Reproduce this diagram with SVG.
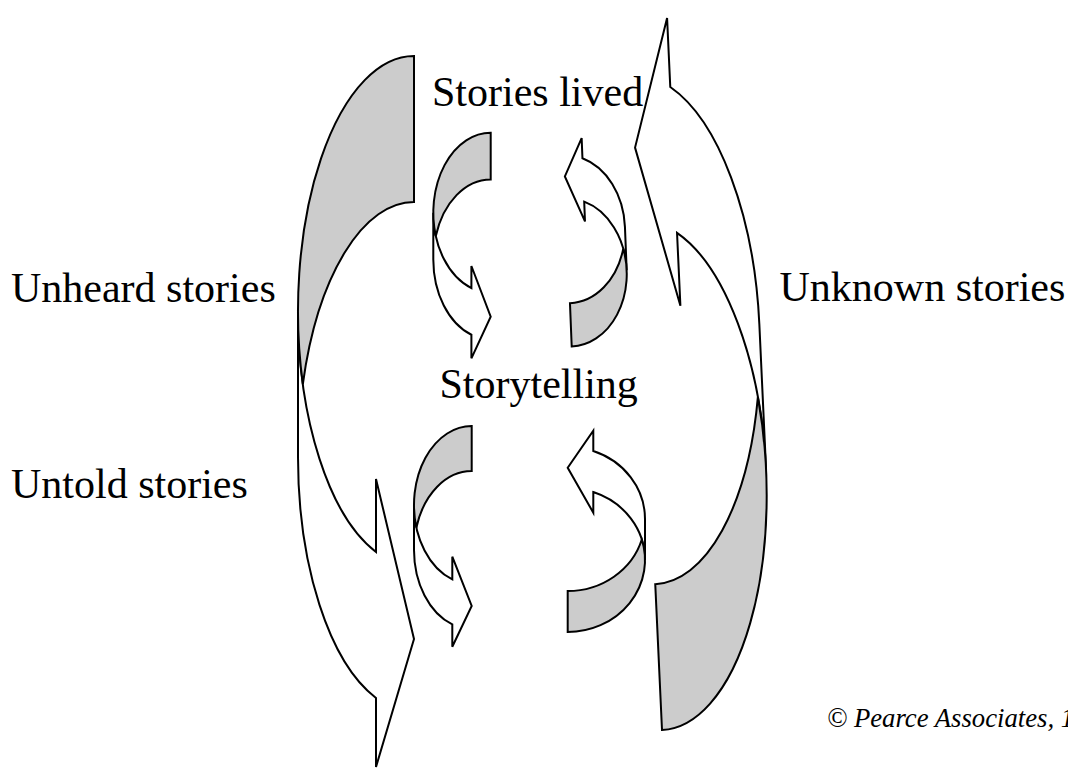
<svg xmlns="http://www.w3.org/2000/svg" xmlns:xlink="http://www.w3.org/1999/xlink" width="1068" height="768" viewBox="0 0 1068 768">
  <style>
    .body { fill: #ffffff; stroke: #000000; stroke-width: 2; stroke-linejoin: miter; }
    .back { fill: #cccccc; stroke: #000000; stroke-width: 2; stroke-linejoin: miter; }
    .label { font-family: "Liberation Serif", "Times New Roman", serif; font-size: 42px; fill: #000000; }
    .copy { font-family: "Liberation Serif", "Times New Roman", serif; font-size: 26.7px; font-style: italic; fill: #000000; }
  </style>
  <defs>
    <g id="bigArrowShape">
      <path class="body" d="M-116,255 A116,255 0 0 0 -38,495.93 L-38,423 L0,583 L-38,711 L-38,641.93 A116,255 0 0 1 -116,401 Z"/>
      <path class="back" d="M0,0 L0,146 A116,255 0 0 0 -111.15,328 A116,255 0 0 1 0,0 Z"/>
    </g>
  </defs>
  <rect x="0" y="0" width="1068" height="768" fill="#ffffff"/>
  <g id="connectors">
    <g id="arrow-unheard-untold">
      <use xlink:href="#bigArrowShape" href="#bigArrowShape" transform="translate(414,56)"/>
    </g>
    <g id="arrow-unknown">
      <use xlink:href="#bigArrowShape" href="#bigArrowShape" transform="translate(662,730) rotate(177.35)"/>
    </g>
    <g id="arrow-top-left" transform="translate(490.7,132.7)">
      <path class="body" d="M-57.4,80 A57.4,80 0 0 0 -19.3,155.34 L-19.3,133.3 L0,184 L-19.3,225.6 L-19.3,202.04 A57.4,80 0 0 1 -57.4,126.7 Z"/>
      <path class="back" d="M0,0 L0,46.7 A57.4,80 0 0 0 -54.9,103.35 A57.4,80 0 0 1 0,0 Z"/>
    </g>
    <g id="arrow-top-right" transform="translate(571.7,346.5) rotate(177.7)">
      <path class="body" d="M-58,74 A58,74 0 0 0 -18.3,144.22 L-18.3,124.4 L0,170.2 L-18.3,207.8 L-18.3,187.62 A58,74 0 0 1 -58,117.4 Z"/>
      <path class="back" d="M0,0 L0,43.4 A58,74 0 0 0 -55.45,95.7 A58,74 0 0 1 0,0 Z"/>
    </g>
    <g id="arrow-bottom-left" transform="translate(471.7,426)">
      <path class="body" d="M-57.7,79 A57.7,79 0 0 0 -19.4,153.4 L-19.4,130.7 L0,180 L-19.4,220.7 L-19.4,198.4 A57.7,79 0 0 1 -57.7,124 Z"/>
      <path class="back" d="M0,0 L0,45 A57.7,79 0 0 0 -55.31,101.5 A57.7,79 0 0 1 0,0 Z"/>
    </g>
    <g id="arrow-bottom-right" transform="translate(567.7,632) rotate(180)">
      <path class="body" d="M-77.3,72 A77.3,72 0 0 0 -25.6,139.94 L-25.6,119.3 L0,164.3 L-25.6,201.3 L-25.6,180.94 A77.3,72 0 0 1 -77.3,113 Z"/>
      <path class="back" d="M0,0 L0,41 A77.3,72 0 0 0 -74.1,92.5 A77.3,72 0 0 1 0,0 Z"/>
    </g>
  </g>
  <g id="label-stories-lived"><text class="label" x="432" y="106">Stories lived</text></g>
  <g id="label-storytelling"><text class="label" x="439.5" y="398">Storytelling</text></g>
  <g id="label-unheard"><text class="label" x="11" y="302">Unheard stories</text></g>
  <g id="label-untold"><text class="label" x="11" y="498">Untold stories</text></g>
  <g id="label-unknown"><text class="label" x="779.5" y="301">Unknown stories</text></g>
  <g id="label-copyright"><text class="copy" x="827" y="727">© Pearce Associates, 1</text></g>
</svg>
